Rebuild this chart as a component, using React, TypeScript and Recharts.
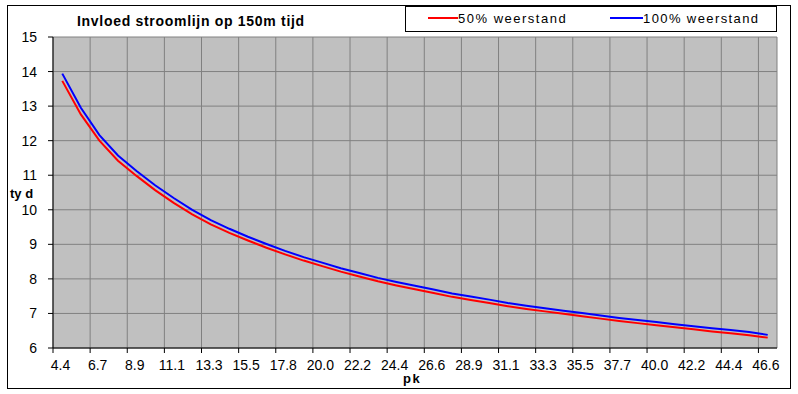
import { CartesianGrid, Line, LineChart, XAxis, YAxis } from "recharts";

// pk per category, every other one is labelled on the axis
const pk = [
  4.44, 5.55, 6.66, 7.77, 8.88, 9.99, 11.1, 12.21, 13.32, 14.43, 15.54, 16.65, 17.76,
  18.87, 19.98, 21.09, 22.2, 23.31, 24.42, 25.53, 26.64, 27.75, 28.86, 29.97, 31.08,
  32.19, 33.3, 34.41, 35.52, 36.63, 37.74, 38.85, 39.96, 41.07, 42.18, 43.29, 44.4,
  45.51, 46.62,
];

// tijd (s) bij 50% weerstand
const weerstand50 = [
  13.73, 12.76, 12.0, 11.42, 10.98, 10.57, 10.2, 9.87, 9.58, 9.33, 9.11, 8.9, 8.71,
  8.53, 8.37, 8.21, 8.07, 7.93, 7.81, 7.7, 7.59, 7.48, 7.39, 7.3, 7.21, 7.13, 7.06,
  6.99, 6.92, 6.85, 6.78, 6.72, 6.66, 6.6, 6.54, 6.48, 6.43, 6.37, 6.3,
];

// tijd (s) bij 100% weerstand
const weerstand100 = [
  13.94, 12.95, 12.16, 11.57, 11.12, 10.71, 10.34, 10.0, 9.7, 9.45, 9.22, 9.01, 8.81,
  8.63, 8.47, 8.31, 8.17, 8.03, 7.91, 7.8, 7.69, 7.58, 7.49, 7.4, 7.3, 7.22, 7.15,
  7.08, 7.01, 6.94, 6.87, 6.81, 6.75, 6.69, 6.63, 6.57, 6.52, 6.46, 6.38,
];

const yTicks = [6, 7, 8, 9, 10, 11, 12, 13, 14, 15];
const xTicks = pk.map((_, i) => i).filter((i) => i % 2 === 0);

const font = "Arial, 'Liberation Sans', sans-serif";

// categories sit between the tick marks, like Excel does it
const data = pk.map((p, i) => ({
  x: i + 0.5,
  pk: p,
  w50: weerstand50[i],
  w100: weerstand100[i],
}));

function XTick(props: any) {
  const { x, y, payload } = props;
  return (
    <text
      x={x + 7.5}
      y={y}
      dy={15}
      textAnchor="middle"
      fontSize={14}
      fontFamily={font}
      fill="#000"
    >
      {pk[payload.value].toFixed(1)}
    </text>
  );
}

export default function App() {
  return (
    <div
      style={{
        position: "absolute",
        left: 0,
        top: 0,
        width: 798,
        height: 394,
        background: "#fff",
        fontFamily: font,
        color: "#000",
      }}
    >
      <LineChart
        width={798}
        height={394}
        data={data}
        margin={{ top: 37, right: 21, left: 0, bottom: 16 }}
      >
        <CartesianGrid fill="#C0C0C0" stroke="#808080" strokeWidth={1} />
        <XAxis
          dataKey="x"
          type="number"
          domain={[0, pk.length]}
          ticks={xTicks}
          interval={0}
          height={30}
          tickSize={5}
          tickMargin={2}
          tick={<XTick />}
          axisLine={{ stroke: "#000" }}
          tickLine={{ stroke: "#000" }}
        />
        <YAxis
          type="number"
          domain={[6, 15]}
          ticks={yTicks}
          interval={0}
          width={53}
          tickSize={5}
          tickMargin={11}
          tick={{ fontSize: 14, fill: "#000", fontFamily: font }}
          axisLine={{ stroke: "#000" }}
          tickLine={{ stroke: "#000" }}
        />
        <Line
          type="linear"
          dataKey="w50"
          stroke="#FF0000"
          strokeWidth={2}
          dot={false}
          isAnimationActive={false}
        />
        <Line
          type="linear"
          dataKey="w100"
          stroke="#0000FF"
          strokeWidth={2}
          dot={false}
          isAnimationActive={false}
        />
      </LineChart>

      {/* chart border */}
      <div
        style={{
          position: "absolute",
          left: 7,
          top: 5,
          width: 784,
          height: 384,
          border: "1px solid #000",
          boxSizing: "border-box",
          pointerEvents: "none",
        }}
      />

      <div
        style={{
          position: "absolute",
          left: 77,
          top: 14,
          fontSize: 14,
          lineHeight: "14px",
          fontWeight: "bold",
          letterSpacing: 0.7,
          whiteSpace: "nowrap",
        }}
      >
        Invloed stroomlijn op 150m tijd
      </div>

      {/* legend */}
      <div
        style={{
          position: "absolute",
          left: 405,
          top: 6,
          width: 372,
          height: 26,
          border: "1px solid #000",
          boxSizing: "border-box",
          background: "#fff",
        }}
      >
        <div style={{ position: "absolute", left: 22, top: 10, width: 30, height: 2, background: "#FF0000" }} />
        <div
          style={{
            position: "absolute",
            left: 52,
            top: 5,
            fontSize: 13,
            lineHeight: "13px",
            letterSpacing: 1.5,
            whiteSpace: "nowrap",
          }}
        >
          50% weerstand
        </div>
        <div style={{ position: "absolute", left: 204, top: 10, width: 33, height: 2, background: "#0000FF" }} />
        <div
          style={{
            position: "absolute",
            left: 237,
            top: 5,
            fontSize: 13,
            lineHeight: "13px",
            letterSpacing: 1.4,
            whiteSpace: "nowrap",
          }}
        >
          100% weerstand
        </div>
      </div>

      <div
        style={{
          position: "absolute",
          left: 10,
          top: 187,
          fontSize: 13,
          lineHeight: "13px",
          fontWeight: "bold",
          whiteSpace: "nowrap",
        }}
      >
        ty d
      </div>
      <div
        style={{
          position: "absolute",
          left: 403,
          top: 372,
          fontSize: 13,
          lineHeight: "13px",
          fontWeight: "bold",
          letterSpacing: 1.5,
          whiteSpace: "nowrap",
        }}
      >
        pk
      </div>
    </div>
  );
}
